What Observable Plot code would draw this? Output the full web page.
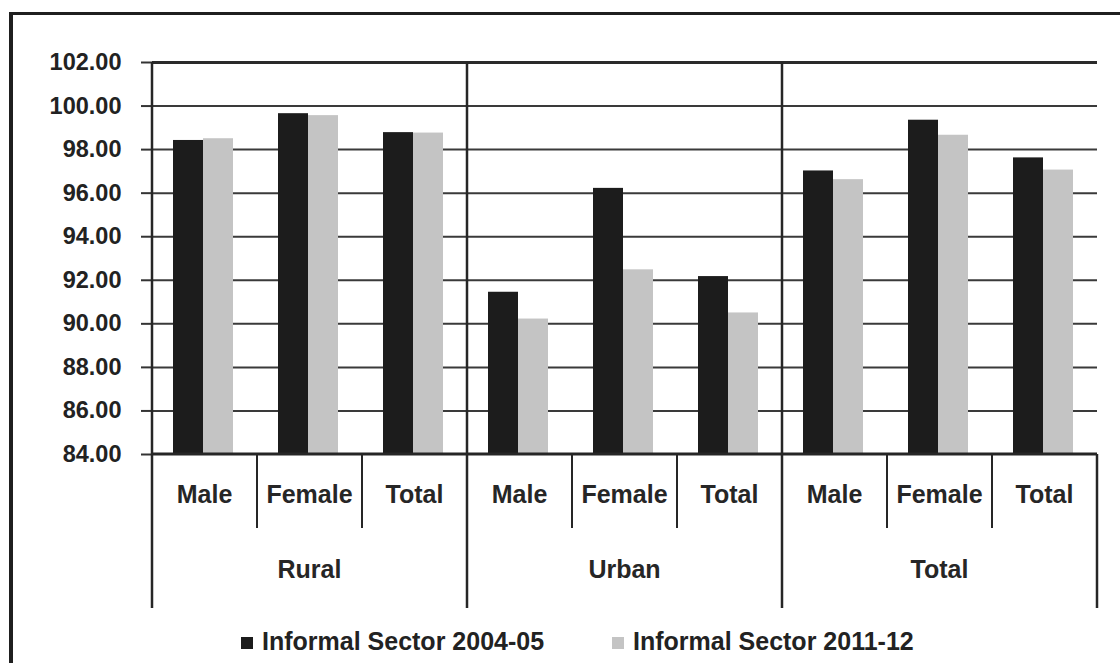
<!DOCTYPE html>
<html>
<head>
<meta charset="utf-8">
<script src="https://cdn.jsdelivr.net/npm/d3@7"></script>
<script src="https://cdn.jsdelivr.net/npm/@observablehq/plot@0.6"></script>
<style>
  body { margin: 0; background: #fff; font-family: "Liberation Sans", Arial, sans-serif; }
  #wrap { position: relative; width: 1120px; height: 663px; overflow: hidden; background: #fff; }
  #frame { position: absolute; left: 9px; top: 12px; width: 1300px; height: 800px;
           border-left: 4px solid #1f1f1f; border-top: 3px solid #1f1f1f; pointer-events: none; }
  #legend { position: relative; height: 41px; font-weight: bold; font-size: 25px; color: #222; }
  .item { position: absolute; top: 0; height: 38px; display: flex; align-items: center; white-space: nowrap; }
  .sw { width: 12px; height: 12px; margin-right: 9px; margin-top: 3px; }
</style>
</head>
<body>
<div id="wrap">
  <div id="chart"></div>
  <div id="legend"></div>
  <div id="frame"></div>
</div>
<script>
// ---- data ----
const groups = ["Rural", "Urban", "Total"];
const subcats = ["Male", "Female", "Total"];
const seriesNames = ["Informal Sector 2004-05", "Informal Sector 2011-12"];
const sector2004 = [98.42, 99.65, 98.78, 91.45, 96.22, 92.17, 97.02, 99.35, 97.62];
const sector2011 = [98.50, 99.56, 98.76, 90.22, 92.48, 90.50, 96.62, 98.66, 97.06];
const yTicks = [84, 86, 88, 90, 92, 94, 96, 98, 100, 102];
const seriesColors = ["#1c1c1c", "#c4c4c4"];

// ---- table built from arrays ----
const keys = [];
groups.forEach(g => subcats.forEach(s => keys.push(g + "|" + s)));
const rows0 = keys.map((k, i) => ({key: k, value: sector2004[i]}));
const rows1 = keys.map((k, i) => ({key: k, value: sector2011[i]}));

const chart = Plot.plot({
  width: 1120,
  height: 622,
  marginTop: 62,
  marginLeft: 152,
  marginRight: 23,
  marginBottom: 168,
  style: {fontFamily: "'Liberation Sans', Arial, sans-serif", color: "#222", background: "transparent"},
  x: {domain: keys, padding: 0, axis: null},
  y: {domain: [yTicks[0], yTicks[yTicks.length - 1]]},
  marks: [
    Plot.ruleY(yTicks.slice(1, -1), {stroke: "#3a3a3a", strokeWidth: 2}),
    Plot.ruleY(yTicks.slice(-1), {stroke: "#2a2a2a", strokeWidth: 3}),
    Plot.axisY(yTicks, {
      tickSize: 11, tickPadding: 20, strokeWidth: 2, stroke: "#333",
      tickFormat: d => d.toFixed(2), fontSize: 23.5, fontWeight: "bold", label: null
    }),
    Plot.barY(rows0, {x: "key", y: "value", fill: seriesColors[0], insetLeft: 21, insetRight: 54, clip: true}),
    Plot.barY(rows1, {x: "key", y: "value", fill: seriesColors[1], insetLeft: 51, insetRight: 24, clip: true})
  ]
});
document.getElementById("chart").appendChild(chart);

// ---- category axis drawn with the plot's own scales ----
const xs = chart.scale("x");
const ys = chart.scale("y");
const bw = xs.bandwidth;
const yBase = ys.apply(yTicks[0]);
const yTop = ys.apply(yTicks[yTicks.length - 1]);
const subDepth = 74, groupDepth = 154;
const xLeft = xs.apply(keys[0]);
const xRight = xs.apply(keys[keys.length - 1]) + bw;

const svg = d3.select(chart);
const g = svg.append("g").attr("stroke", "#262626").attr("fill", "none");
g.append("line").attr("x1", xLeft).attr("x2", xRight).attr("y1", yBase).attr("y2", yBase).attr("stroke-width", 3);
g.append("line").attr("x1", xLeft).attr("x2", xLeft).attr("y1", yTop).attr("y2", yBase + groupDepth).attr("stroke-width", 2.5);
groups.forEach((gr, gi) => {
  if (gi === 0) return;
  const x0 = xs.apply(gr + "|" + subcats[0]);
  g.append("line").attr("x1", x0).attr("x2", x0).attr("y1", yTop).attr("y2", yBase + groupDepth).attr("stroke-width", 2.5);
});
g.append("line").attr("x1", xRight).attr("x2", xRight).attr("y1", yBase).attr("y2", yBase + groupDepth).attr("stroke-width", 2.5);
groups.forEach(gr => subcats.forEach((s, si) => {
  if (si === 0) return;
  const x0 = xs.apply(gr + "|" + s);
  g.append("line").attr("x1", x0).attr("x2", x0).attr("y1", yBase).attr("y2", yBase + subDepth).attr("stroke-width", 2);
}));
const t = svg.append("g").attr("fill", "#262626").attr("font-weight", "bold").attr("font-size", 25)
  .attr("text-anchor", "middle").attr("font-family", "'Liberation Sans', Arial, sans-serif");
keys.forEach((k, i) => {
  t.append("text").attr("x", xs.apply(k) + bw / 2).attr("y", yBase + 40).attr("dy", "0.35em").text(subcats[i % 3]);
});
groups.forEach(gr => {
  const xa = xs.apply(gr + "|" + subcats[0]);
  const xb = xs.apply(gr + "|" + subcats[2]) + bw;
  t.append("text").attr("x", (xa + xb) / 2).attr("y", yBase + 115).attr("dy", "0.35em").text(gr);
});

// ---- legend ----
const legend = document.getElementById("legend");
const legendLeft = [241, 612];
seriesNames.forEach((name, i) => {
  const it = document.createElement("div");
  it.className = "item";
  it.style.left = legendLeft[i] + "px";
  const sw = document.createElement("span");
  sw.className = "sw";
  sw.style.background = seriesColors[i];
  const tx = document.createElement("span");
  tx.textContent = name;
  it.appendChild(sw); it.appendChild(tx);
  legend.appendChild(it);
});
</script>
</body>
</html>
